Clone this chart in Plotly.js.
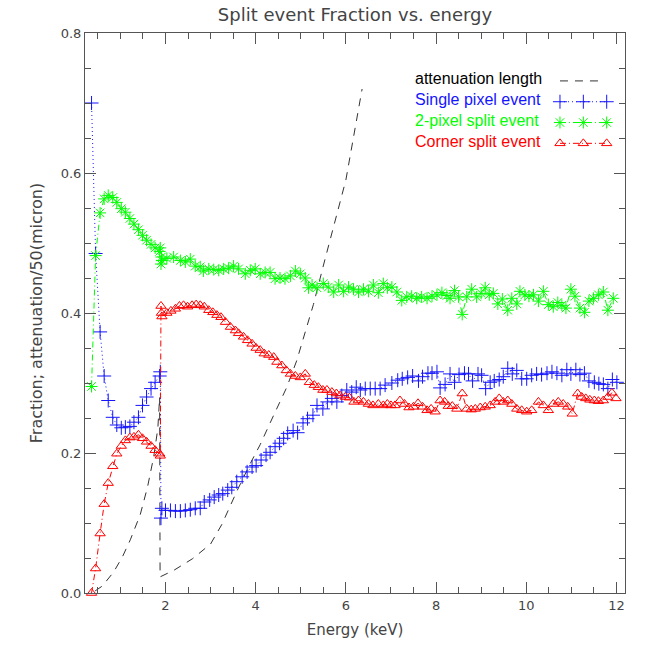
<!DOCTYPE html>
<html><head><meta charset="utf-8">
<script src="https://cdn.plot.ly/plotly-3.0.1.min.js"></script>
<style>html,body{margin:0;padding:0;background:#fff}#chart{width:650px;height:650px}</style>
</head><body><div id="chart"></div>
<script>
// ---- data ----
const energyAtt = [0.44,0.60,0.85,1.04,1.22,1.44,1.60,1.74,1.83,1.87,1.88,2.20,2.60,3.00,3.25,3.58,3.88,4.10,4.32,4.69,4.91,5.10,5.28,5.51,5.65,6.00,6.36];
const attenuation = [0.003,0.010,0.030,0.051,0.076,0.112,0.151,0.195,0.235,0.280,0.023,0.033,0.049,0.070,0.098,0.145,0.185,0.212,0.243,0.294,0.332,0.372,0.412,0.470,0.505,0.590,0.720];

const energySingle = [0.36,0.45,0.55,0.64,0.73,0.83,0.92,1.02,1.11,1.21,1.30,1.40,1.49,1.58,1.68,1.77,1.87,1.885,1.90,1.92,
 2.00,2.11,2.22,2.33,2.44,2.55,2.66,2.77,2.86,2.98,3.08,3.18,3.27,3.38,3.47,3.58,3.70,3.81,3.92,4.01,4.12,4.23,4.32,4.43,4.53,4.62,4.71,4.83,4.93,5.05,5.15,5.27,5.36,5.49,5.59,5.69,5.80,5.91,6.02,6.13,6.23,6.32,6.43,6.54,6.65,6.76,6.87,
 7.02,7.15,7.25,7.37,7.48,7.61,7.70,7.82,7.91,8.02,8.09,8.20,8.31,8.41,8.51,8.63,8.72,8.81,8.93,9.01,9.10,9.20,9.29,9.40,9.49,9.59,9.69,9.79,9.90,10.01,10.12,10.23,10.34,10.46,10.57,10.68,10.79,10.90,10.99,11.10,11.19,11.29,11.39,11.51,11.61,11.71,11.81,11.91,12.01];
const fracSingle = [0.70,0.485,0.373,0.31,0.275,0.251,0.240,0.236,0.237,0.238,0.244,0.251,0.268,0.280,0.292,0.301,0.310,0.316,0.107,0.121,
 0.118,0.118,0.117,0.117,0.118,0.119,0.121,0.121,0.130,0.133,0.137,0.140,0.142,0.147,0.151,0.159,0.166,0.173,0.180,0.182,0.190,0.197,0.201,0.209,0.214,0.221,0.228,0.232,0.229,0.243,0.249,0.254,0.268,0.263,0.273,0.278,0.273,0.282,0.290,0.287,0.294,0.290,0.292,0.292,0.292,0.292,0.297,
 0.300,0.304,0.306,0.308,0.310,0.303,0.309,0.314,0.314,0.316,0.293,0.298,0.313,0.301,0.312,0.314,0.313,0.303,0.313,0.311,0.292,0.301,0.303,0.305,0.309,0.321,0.313,0.318,0.306,0.306,0.311,0.313,0.312,0.314,0.316,0.314,0.311,0.319,0.313,0.319,0.312,0.314,0.303,0.301,0.299,0.298,0.292,0.305,0.301];

const energyTwoPixel = [0.36,0.45,0.55,0.64,0.73,0.83,0.92,1.02,1.11,1.21,1.30,1.40,1.49,1.58,1.68,1.77,1.87,1.885,1.90,1.91,1.92,
 2.03,2.18,2.33,2.44,2.55,2.66,2.77,2.84,2.96,3.07,3.18,3.29,3.40,3.51,3.62,3.77,3.88,3.99,4.10,4.21,4.32,4.43,4.54,4.65,4.77,4.88,4.99,5.10,5.17,5.25,5.36,5.50,5.61,5.73,5.84,5.95,6.06,6.17,6.28,6.39,6.50,6.61,6.72,6.83,6.92,
 7.02,7.13,7.24,7.35,7.46,7.57,7.68,7.80,7.91,8.02,8.13,8.24,8.31,8.41,8.50,8.58,8.68,8.79,8.90,9.00,9.09,9.18,9.27,9.37,9.47,9.59,9.68,9.79,9.86,9.97,10.06,10.16,10.27,10.38,10.49,10.60,10.70,10.79,10.88,10.99,11.08,11.19,11.29,11.39,11.49,11.60,11.71,11.81,11.93];
const fracTwoPixel = [0.295,0.482,0.543,0.563,0.568,0.565,0.558,0.549,0.544,0.535,0.527,0.519,0.511,0.504,0.498,0.493,0.488,0.493,0.470,0.480,0.475,
 0.478,0.480,0.475,0.473,0.477,0.467,0.466,0.460,0.463,0.462,0.461,0.463,0.464,0.467,0.463,0.456,0.461,0.463,0.456,0.458,0.458,0.449,0.450,0.449,0.453,0.460,0.456,0.450,0.436,0.440,0.436,0.442,0.437,0.430,0.440,0.431,0.437,0.434,0.430,0.434,0.431,0.440,0.429,0.442,0.436,
 0.437,0.430,0.418,0.423,0.424,0.421,0.423,0.421,0.424,0.426,0.429,0.425,0.421,0.432,0.423,0.398,0.423,0.434,0.423,0.428,0.436,0.426,0.428,0.413,0.420,0.404,0.421,0.413,0.431,0.426,0.424,0.426,0.417,0.431,0.412,0.409,0.415,0.411,0.407,0.434,0.424,0.407,0.401,0.417,0.421,0.426,0.430,0.404,0.421];

const energyCorner = [0.36,0.45,0.55,0.64,0.73,0.83,0.92,1.02,1.11,1.21,1.30,1.40,1.49,1.58,1.68,1.77,1.87,1.885,1.90,1.91,1.92,
 2.03,2.12,2.22,2.31,2.40,2.49,2.59,2.68,2.77,2.86,2.96,3.05,3.14,3.23,3.33,3.44,3.55,3.62,3.73,3.82,3.92,4.01,4.10,4.19,4.29,4.40,4.47,4.58,4.68,4.77,4.88,4.99,5.10,5.19,5.30,5.39,5.49,5.58,5.69,5.79,5.87,5.99,6.08,6.18,6.28,6.39,6.50,6.60,6.72,6.83,6.92,
 7.00,7.09,7.20,7.30,7.40,7.50,7.60,7.70,7.80,7.89,7.98,8.09,8.19,8.27,8.36,8.46,8.58,8.68,8.78,8.87,8.98,9.09,9.20,9.31,9.40,9.49,9.59,9.68,9.79,9.90,10.01,10.12,10.27,10.38,10.49,10.60,10.71,10.82,10.92,11.02,11.14,11.23,11.32,11.41,11.51,11.60,11.71,11.81,11.90,11.99];
const fracCorner = [0.0,0.035,0.085,0.127,0.157,0.181,0.199,0.210,0.218,0.222,0.223,0.226,0.221,0.216,0.210,0.204,0.199,0.196,0.410,0.400,0.395,
 0.400,0.403,0.406,0.410,0.411,0.409,0.411,0.412,0.411,0.409,0.404,0.401,0.397,0.394,0.387,0.380,0.375,0.371,0.366,0.361,0.356,0.350,0.347,0.342,0.340,0.337,0.330,0.325,0.318,0.313,0.310,0.308,0.313,0.301,0.297,0.294,0.290,0.290,0.287,0.285,0.282,0.280,0.279,0.273,0.275,0.273,0.270,0.268,0.270,0.268,0.270,
 0.268,0.268,0.275,0.270,0.265,0.266,0.271,0.266,0.261,0.263,0.259,0.275,0.273,0.267,0.267,0.263,0.285,0.263,0.262,0.263,0.265,0.266,0.268,0.273,0.278,0.273,0.275,0.270,0.263,0.261,0.259,0.261,0.273,0.268,0.261,0.270,0.273,0.270,0.266,0.256,0.285,0.280,0.278,0.276,0.275,0.274,0.275,0.280,0.286,0.278];

const xTickValues = [2,4,6,8,10,12];
const yTickValues = [0.0,0.2,0.4,0.6,0.8];
const seriesNames = ['attenuation length','Single pixel event','2-pixel split event','Corner split event'];
const keyX = [0,1,2];

// ---- styling ----
const C_ATT = '#333333', C_BLUE = 'rgb(20,20,255)', C_GREEN = 'rgb(0,255,0)', C_RED = 'rgb(255,0,0)';
const AXC = '#555555', TXC = '#444444';
const AXFONT = 'DejaVu Sans, sans-serif';
const LGFONT = 'Liberation Sans, Arial, sans-serif';
const DASH_ATT = '8px,7px', DASH_DOT = '1px,3px', DASH_DASHDOT = '6px,3px,1px,3px';

const styles = [
  {color: C_ATT, text:'#000000', dash: DASH_ATT, symbol: null},
  {color: C_BLUE, text:C_BLUE, dash: DASH_DOT, symbol: 'cross-thin-open', size: 10},
  {color: C_GREEN, text:C_GREEN, dash: DASH_DASHDOT, symbol: 'asterisk-open', size: 10},
  {color: C_RED, text:C_RED, dash: DASH_DASHDOT, symbol: 'triangle-up-open', size: 9}
];
const seriesX = [energyAtt, energySingle, energyTwoPixel, energyCorner];
const seriesY = [attenuation, fracSingle, fracTwoPixel, fracCorner];

const traces = [];
seriesX.forEach((xs, i) => {
  const s = styles[i];
  const t = {type:'scatter', x: xs, y: seriesY[i], name: seriesNames[i], showlegend:false,
    mode: s.symbol ? 'lines+markers' : 'lines', cliponaxis:false,
    line:{color:s.color, width:1, dash:s.dash}, xaxis:'x', yaxis:'y'};
  if (s.symbol) t.marker = {symbol:s.symbol, size:s.size, color:s.color, line:{color:s.color, width:1}};
  traces.push(t);
});
// legend keys (drawn on a small hidden axis pair, one row per series)
seriesNames.forEach((name, i) => {
  const s = styles[i];
  const row = 3 - i;
  const t = {type:'scatter', x: s.symbol ? keyX : [keyX[0], keyX[2]*0.85],
    y: (s.symbol ? keyX : [0,0]).map(() => row), showlegend:false, cliponaxis:false,
    mode: s.symbol ? 'lines+markers' : 'lines', line:{color:s.color, width:1, dash:s.dash}, xaxis:'x2', yaxis:'y2'};
  if (s.symbol) t.marker = {symbol:s.symbol, size:s.size, color:s.color, line:{color:s.color, width:1}};
  traces.push(t);
});

const annotations = seriesNames.map((name, i) => ({
  xref:'paper', yref:'y2', x:0.6074, y:3 - i, xanchor:'left', yanchor:'middle', yshift:2,
  text:name, showarrow:false, font:{family:LGFONT, size:16, color: styles[i].text}
}));

const axisCommon = {
  showline:true, linecolor:AXC, linewidth:1, mirror:'ticks',
  ticks:'inside', ticklen:11, tickwidth:1, tickcolor:AXC,
  showgrid:false, zeroline:false,
  tickfont:{family:AXFONT, size:13, color:TXC}
};

const layout = {
  width:650, height:650,
  margin:{l:85, r:25, t:33, b:57},
  paper_bgcolor:'#fff', plot_bgcolor:'rgba(0,0,0,0)',
  showlegend:false,
  title:{text:'Split event Fraction vs. energy', font:{family:AXFONT, size:18, color:TXC},
    x:0.5, xref:'paper', xanchor:'center', y:1-15/650, yref:'container', yanchor:'middle'},
  xaxis: Object.assign({}, axisCommon, {
    range:[0.215, 12.19], tickmode:'array', tickvals:xTickValues, ticktext:xTickValues.map(String),
    minor:{tickmode:'linear', tick0:0, dtick:0.5, ticks:'inside', ticklen:6, tickcolor:AXC},
    title:{text:'Energy (keV)', font:{family:AXFONT, size:15, color:TXC}, standoff:12}
  }),
  yaxis: Object.assign({}, axisCommon, {
    range:[0, 0.8], tickmode:'array', tickvals:yTickValues, ticktext:yTickValues.map(v => v.toFixed(1)),
    minor:{tickmode:'linear', tick0:0, dtick:0.05, ticks:'inside', ticklen:6, tickcolor:AXC},
    title:{text:'Fraction; attenuation/50(micron)', font:{family:AXFONT, size:16, color:TXC}, standoff:14}
  }),
  xaxis2:{domain:[0.8796, 0.9661], range:[0,2], visible:false, anchor:'y2', fixedrange:true},
  yaxis2:{domain:[0.7844, 0.9330], range:[-0.5,3.5], visible:false, anchor:'x2', fixedrange:true},
  annotations: annotations,
  hovermode:false
};

Plotly.newPlot('chart', traces, layout, {staticPlot:true, displayModeBar:false});
</script>
</body></html>
